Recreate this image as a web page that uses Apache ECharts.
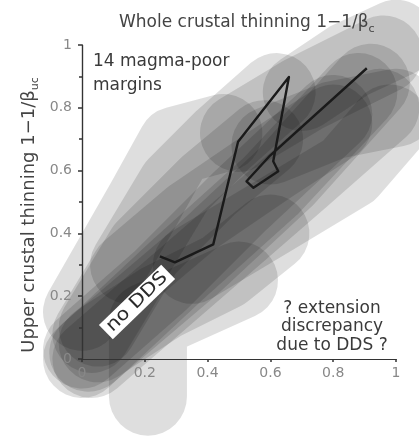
<!DOCTYPE html>
<html>
<head>
<meta charset="utf-8">
<script src="https://cdn.jsdelivr.net/npm/echarts@6/dist/echarts.min.js"></script>
<style>
  html, body { margin: 0; padding: 0; background: #fff; }
  #chart { width: 419px; height: 436px; }
</style>
</head>
<body>
<div id="chart"></div>
<script>
// Axis ticks (fraction of thinning)
const xTicks = [0, 0.2, 0.4, 0.6, 0.8, 1];
const yTicks = [0, 0.2, 0.4, 0.6, 0.8, 1];

// Thinning paths of the 14 magma-poor margins: [whole crustal, upper crustal]
const margins = [
  [[0.00, 0.00], [0.30, 0.28], [0.60, 0.55], [0.88, 0.85]],
  [[0.02, 0.02], [0.35, 0.30], [0.65, 0.58], [0.92, 0.88]],
  [[0.00, 0.03], [0.25, 0.25], [0.50, 0.50], [0.80, 0.78]],
  [[0.03, 0.00], [0.40, 0.32], [0.70, 0.58], [0.95, 0.80]],
  [[0.21, -0.12], [0.21, 0.12], [0.50, 0.25]],
  [[0.00, 0.15], [0.20, 0.50], [0.30, 0.68], [0.45, 0.72]],
  [[0.15, 0.30], [0.30, 0.55], [0.45, 0.70], [0.62, 0.85]],
  [[0.50, 0.72], [0.70, 0.84], [0.96, 0.97]],
  [[0.70, 0.85], [0.85, 0.95], [1.00, 1.02]],
  [[0.35, 0.30], [0.60, 0.45], [0.85, 0.60], [0.98, 0.75]],
  [[0.05, 0.05], [0.25, 0.18], [0.45, 0.28], [0.60, 0.40]],
  [[0.03, 0.08], [0.15, 0.28], [0.35, 0.45], [0.60, 0.62], [0.80, 0.75]],
  [[0.60, 0.68], [0.80, 0.76], [1.00, 0.80]],
  [[0.05, 0.10], [0.20, 0.35], [0.40, 0.55], [0.58, 0.70]]
];

// Mean thinning path
const meanPath = [
  [0.248, 0.327], [0.296, 0.308], [0.418, 0.365], [0.497, 0.692],
  [0.659, 0.898], [0.609, 0.630], [0.625, 0.598], [0.546, 0.545],
  [0.524, 0.566], [0.599, 0.648], [0.907, 0.926]
];

const FONT = 'DejaVu Sans';
const chart = echarts.init(document.getElementById('chart'), null, { renderer: 'canvas' });

const swathSeries = margins.map((path, i) => ({
  name: 'margin ' + (i + 1),
  type: 'line',
  data: path,
  symbol: 'none',
  clip: false,
  silent: true,
  z: 1,
  lineStyle: { width: 78, color: '#000', opacity: 0.13, cap: 'round', join: 'round' }
}));

const option = {
  animation: false,
  backgroundColor: '#fff',
  title: {
    text: '{a|Whole crustal thinning 1−1/β}{s|c}',
    left: 114,
    top: 6,
    textStyle: {
      rich: {
        a: { fontFamily: FONT, fontSize: 17, fontWeight: 'normal', color: '#444', lineHeight: 24, verticalAlign: 'middle' },
        s: { fontFamily: FONT, fontSize: 11, fontWeight: 'normal', color: '#444', lineHeight: 11, verticalAlign: 'bottom' }
      }
    }
  },
  grid: { left: 82, right: 23, top: 45, bottom: 77 },
  xAxis: [{
    type: 'value',
    min: xTicks[0], max: xTicks[xTicks.length - 1], interval: xTicks[1] - xTicks[0],
    z: 3,
    axisLine: { lineStyle: { color: '#333', width: 1.2 } },
    axisTick: { show: true, inside: false, length: 3, lineStyle: { color: '#333', width: 1.5 } },
    axisLabel: { margin: 7, color: '#888', fontFamily: FONT, fontSize: 14 },
    splitLine: { show: false }
  }, {
    type: 'value', position: 'top',
    min: xTicks[0], max: xTicks[xTicks.length - 1],
    z: 3,
    axisLine: { show: true, lineStyle: { color: '#333', width: 1.2 } },
    axisTick: { show: false }, axisLabel: { show: false }, splitLine: { show: false }
  }],
  yAxis: [{
    type: 'value',
    min: yTicks[0], max: yTicks[yTicks.length - 1], interval: yTicks[1] - yTicks[0],
    z: 3,
    axisLine: { show: true, lineStyle: { color: '#333', width: 1.2 } },
    axisTick: { show: true, inside: false, length: 4, lineStyle: { color: '#333', width: 1.5 } },
    minorTick: { show: true, splitNumber: 2, length: 3, lineStyle: { color: '#333', width: 1.5 } },
    axisLabel: { margin: 10, color: '#888', fontFamily: FONT, fontSize: 14 },
    splitLine: { show: false }
  }, {
    type: 'value', position: 'right',
    min: yTicks[0], max: yTicks[yTicks.length - 1],
    z: 3,
    axisLine: { show: true, lineStyle: { color: '#333', width: 1.2 } },
    axisTick: { show: false }, axisLabel: { show: false }, splitLine: { show: false }
  }],
  series: swathSeries.concat([{
    name: 'mean',
    type: 'line',
    data: meanPath,
    symbol: 'none',
    z: 5,
    lineStyle: { width: 2.4, color: '#1a1a1a', join: 'round' }
  }]),
  graphic: [
    {
      type: 'text', x: 29, y: 215, rotation: Math.PI / 2, z: 10,
      style: {
        text: '{a|Upper crustal thinning 1−1/β}{s|uc}',
        align: 'center', verticalAlign: 'middle',
        rich: {
          a: { fontFamily: FONT, fontSize: 18, fill: '#444', lineHeight: 24, verticalAlign: 'middle' },
          s: { fontFamily: FONT, fontSize: 11, fill: '#444', lineHeight: 11, verticalAlign: 'bottom' }
        }
      }
    },
    {
      type: 'text', x: 93, y: 50, z: 10,
      style: {
        text: '14 magma-poor\nmargins',
        font: '17px "DejaVu Sans"', fill: '#3a3a3a', lineHeight: 24,
        align: 'left', verticalAlign: 'top'
      }
    },
    {
      type: 'text', x: 332, y: 299, z: 10,
      style: {
        text: '? extension\ndiscrepancy\ndue to DDS ?',
        font: '17px "DejaVu Sans"', fill: '#3a3a3a', lineHeight: 18.5,
        align: 'center', verticalAlign: 'top'
      }
    },
    {
      type: 'text', x: 137, y: 302, rotation: 44 * Math.PI / 180, scaleX: 1.15, z: 10,
      style: {
        text: 'no DDS',
        font: '18px "DejaVu Sans"', fill: '#2a2a2a',
        backgroundColor: '#fff', padding: [1, 4],
        align: 'center', verticalAlign: 'middle'
      }
    }
  ]
};

chart.setOption(option);
</script>
</body>
</html>
